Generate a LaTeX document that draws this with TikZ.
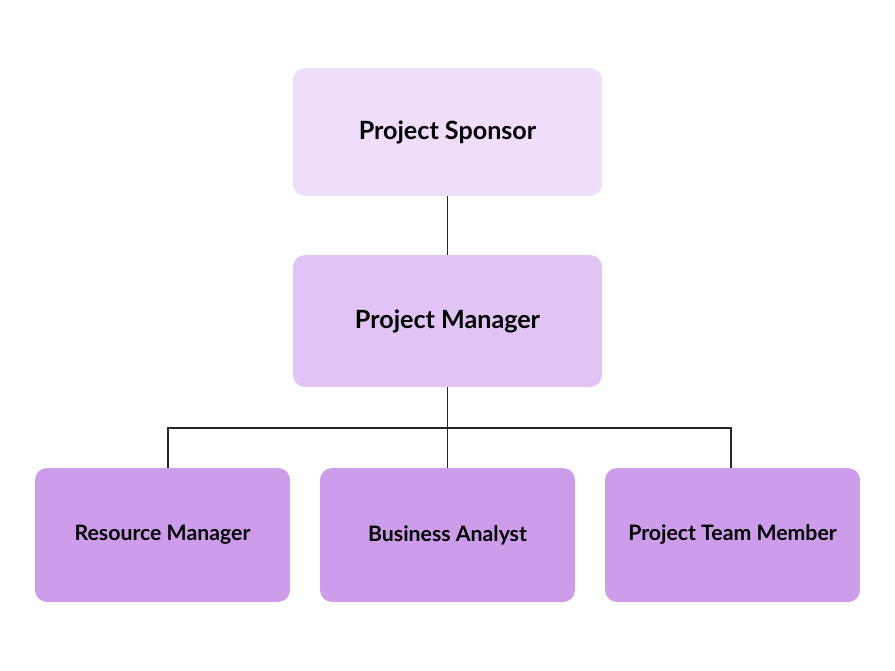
\documentclass[tikz,border=0pt]{standalone}
\usepackage{fontspec}
\setmainfont{Lato}
\usetikzlibrary{positioning}
\definecolor{sponsorfill}{HTML}{F0DCFB}
\definecolor{managerfill}{HTML}{E2C3F5}
\definecolor{teamfill}{HTML}{CD9DEB}
\begin{document}
\begin{tikzpicture}[x=0.02cm, y=-0.02cm,
    box/.style={rounded corners=0.24cm, inner sep=0pt, font=\bfseries},
    link/.style={draw=black!85, line width=0.6pt}]
  \useasboundingbox[fill=white] (0,0) rectangle (895,671);
  % upper levels
  \node[box, fill=sponsorfill, minimum width=6.18cm, minimum height=2.56cm, font=\bfseries\fontsize{14.3}{16}\selectfont] (sponsor) at (447.5,132) {Project Sponsor};
  \node[box, fill=managerfill, minimum width=6.18cm, minimum height=2.64cm, font=\bfseries\fontsize{14.3}{16}\selectfont] (manager) at (447.5,321) {Project Manager};
  % team level
  \node[box, fill=teamfill, minimum width=5.1cm, minimum height=2.68cm, font=\bfseries\fontsize{12.1}{14}\selectfont] (resource) at (162.5,535) {Resource Manager};
  \node[box, fill=teamfill, minimum width=5.1cm, minimum height=2.68cm, font=\bfseries\fontsize{12.1}{14}\selectfont] (analyst) at (447.5,535) {Business Analyst};
  \node[box, fill=teamfill, minimum width=5.1cm, minimum height=2.68cm, font=\bfseries\fontsize{12.1}{14}\selectfont] (member) at (732.5,535) {Project Team Member};
  \coordinate (bus) at (447.5,428);
  \draw[link] (sponsor) -- (manager);
  \draw[link] (manager) -- (analyst);
  \draw[link] (resource.north -| 168,0) |- (bus) -| (member.north -| 731,0);
\end{tikzpicture}
\end{document}
